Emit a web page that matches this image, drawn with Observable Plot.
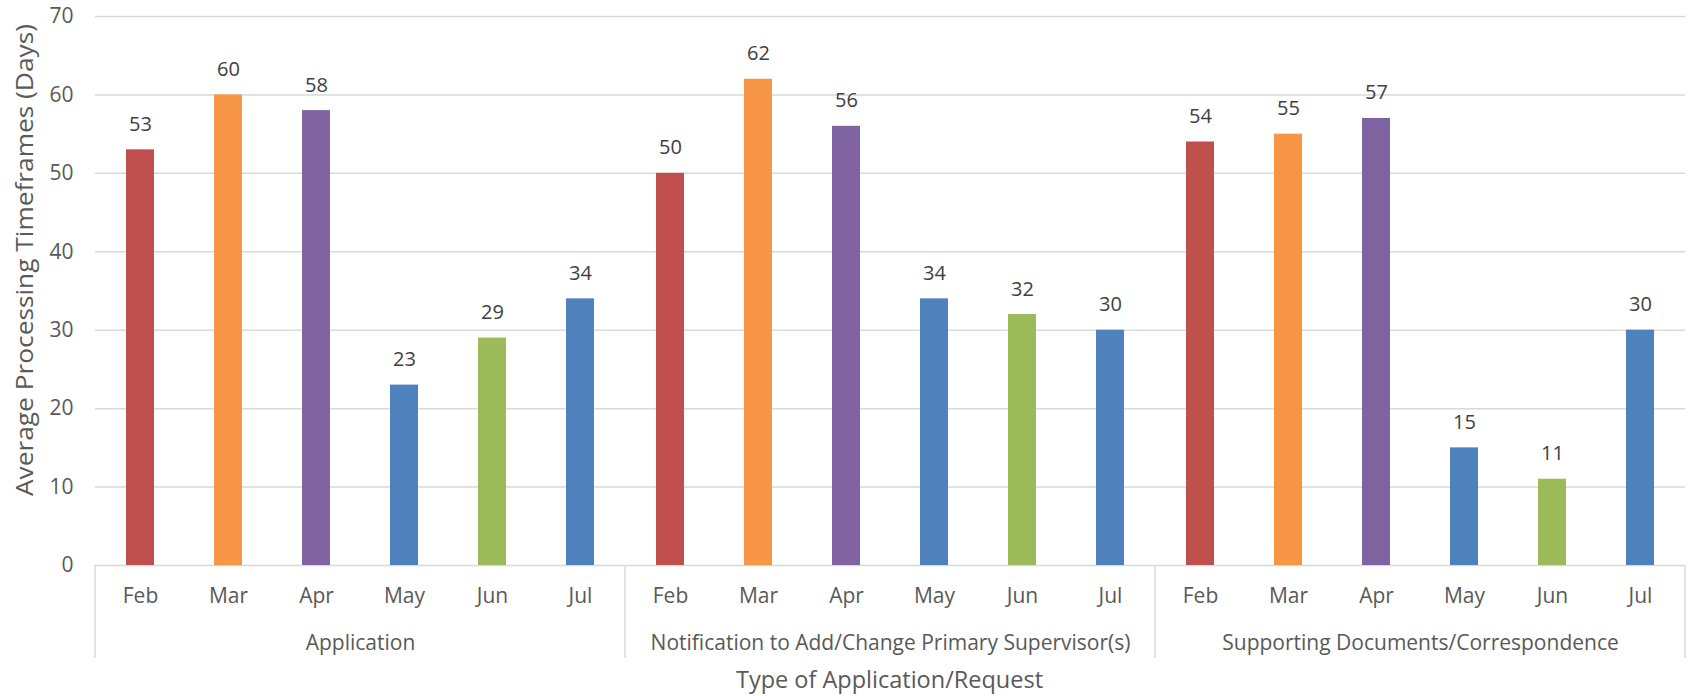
<!DOCTYPE html>
<html><head><meta charset="utf-8">
<script src="https://cdn.jsdelivr.net/npm/d3@7"></script>
<script src="https://cdn.jsdelivr.net/npm/@observablehq/plot@0.6"></script>
<style>
body{margin:0;background:#fff;}
#chart svg{display:block;}
</style></head><body><div id="chart"></div>
<script>
const groups = ["Application", "Notification to Add/Change Primary Supervisor(s)", "Supporting Documents/Correspondence"];
const months = ["Feb", "Mar", "Apr", "May", "Jun", "Jul"];
const applicationValues = [53, 60, 58, 23, 29, 34];
const notificationValues = [50, 62, 56, 34, 32, 30];
const supportingValues = [54, 55, 57, 15, 11, 30];
const monthColors = ["#C0504D", "#F79646", "#8064A2", "#4F81BD", "#9BBB59", "#4F81BD"];
const yTicks = [0, 10, 20, 30, 40, 50, 60, 70];
const yTitle = "Average Processing Timeframes (Days)";
const xTitle = "Type of Application/Request";

const seriesByGroup = [applicationValues, notificationValues, supportingValues];
const data = groups.flatMap((g, i) => months.map((m, j) => ({group: g, month: m, value: seriesByGroup[i][j]})));

const W = 1689, H = 696;
const chart = Plot.plot({
  width: W, height: H,
  marginLeft: 94, marginRight: 4, marginTop: 16, marginBottom: 131,
  style: {fontFamily: "'Open Sans', sans-serif", fontSize: "21px", background: "#fff", color: "#595959"},
  fx: {domain: groups, padding: 0},
  x: {domain: months, paddingInner: 0.68, paddingOuter: 0.34},
  y: {domain: [0, 70]},
  color: {domain: months, range: monthColors},
  marks: [
    Plot.gridY(yTicks, {stroke: "#d9d9d9", strokeOpacity: 1, strokeWidth: 1.5}),
    Plot.barY(data, {fx: "group", x: "month", y: "value", fill: "month"}),
    Plot.text(data, {fx: "group", x: "month", y: "value", text: d => String(d.value), dy: -19, lineAnchor: "bottom", fill: "#404040", fontSize: 20}),
    Plot.axisY(yTicks, {tickSize: 0, tickPadding: 22, label: null, color: "#595959"}),
    Plot.axisX({tickSize: 0, tickPadding: 23, label: null, color: "#595959"}),
    Plot.axisFx({anchor: "bottom", tickSize: 0, tickPadding: 70, label: null, color: "#595959"})
  ]
});

const svg = d3.select(chart);
const fx = chart.scale("fx");
const y = chart.scale("y");
const base = y.apply(0);
const edges = groups.map(g => fx.apply(g)).concat([fx.apply(groups[groups.length - 1]) + fx.bandwidth]);
svg.append("g").selectAll("line").data(edges).join("line")
  .attr("x1", d => d).attr("x2", d => d)
  .attr("y1", base).attr("y2", base + 93)
  .attr("stroke", "#d9d9d9").attr("stroke-width", 1.5);
svg.append("text")
  .attr("transform", "translate(25,260) rotate(-90)")
  .attr("text-anchor", "middle").attr("dy", "0.35em")
  .attr("textLength", 472).attr("lengthAdjust", "spacingAndGlyphs")
  .attr("fill", "#595959").style("font-size", "23.5px")
  .text(yTitle);
const fr = fx.range;
svg.append("text")
  .attr("x", (fr[0] + fr[1]) / 2).attr("y", 688)
  .attr("text-anchor", "middle")
  .attr("fill", "#595959").style("font-size", "23.5px")
  .text(xTitle);
document.getElementById("chart").appendChild(chart);
</script></body></html>
